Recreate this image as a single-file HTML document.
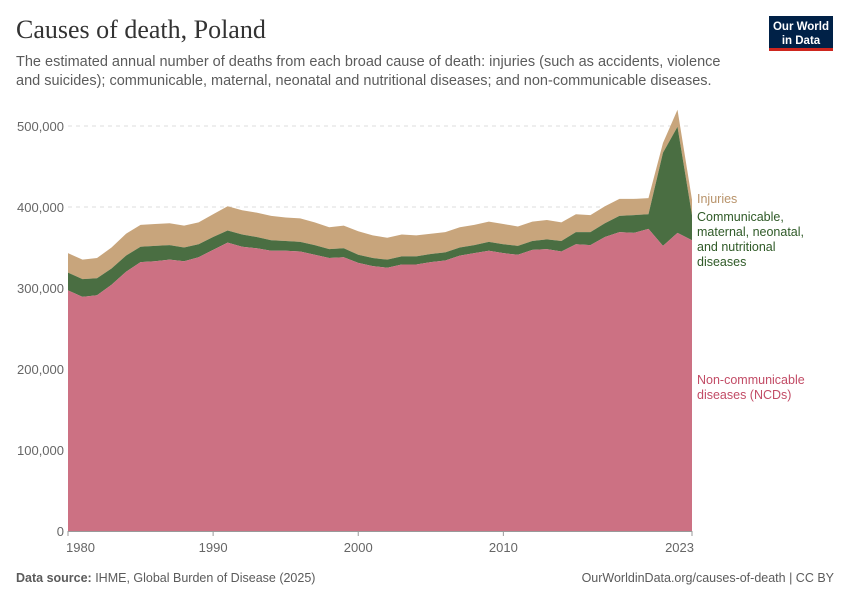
<!DOCTYPE html>
<html><head><meta charset="utf-8"><style>
body{margin:0;width:850px;height:600px;background:#fff;font-family:"Liberation Sans",sans-serif;overflow:hidden}
</style></head><body>
<svg width="850" height="600" xmlns="http://www.w3.org/2000/svg">
<text x="16" y="38" font-family="Liberation Serif" font-size="26" fill="#333">Causes of death, Poland</text>
<text font-size="14.5" fill="#5b5b5b"><tspan x="16" y="66">The estimated annual number of deaths from each broad cause of death: injuries (such as accidents, violence</tspan><tspan x="16" y="85">and suicides); communicable, maternal, neonatal and nutritional diseases; and non-communicable diseases.</tspan></text>
<g><rect x="769" y="16" width="64" height="34" fill="#002147"/><rect x="769" y="48" width="64" height="3" fill="#ce261e"/>
<text x="801" y="30" font-size="11.5" fill="#fff" text-anchor="middle" font-weight="bold">Our World</text><text x="801" y="44" font-size="11.5" fill="#fff" text-anchor="middle" font-weight="bold">in Data</text></g>
<g id="grid"></g><g id="areas"></g><g id="axes"></g>
<text x="697" y="203" font-size="12.5" fill="#b8936a">Injuries</text>
<text font-size="12.5" fill="#2f5a27"><tspan x="697" y="221">Communicable,</tspan><tspan x="697" y="236">maternal, neonatal,</tspan><tspan x="697" y="251">and nutritional</tspan><tspan x="697" y="266">diseases</tspan></text>
<text font-size="12.5" fill="#c24c66"><tspan x="697" y="384">Non-communicable</tspan><tspan x="697" y="399">diseases (NCDs)</tspan></text>
<text x="16" y="582" font-size="12.5" fill="#5b5b5b"><tspan font-weight="bold">Data source:</tspan> IHME, Global Burden of Disease (2025)</text>
<text x="834" y="582" font-size="12.5" fill="#5b5b5b" text-anchor="end">OurWorldinData.org/causes-of-death | CC BY</text>
</svg>
<script>
const years=[];for(let y=1980;y<=2023;y++)years.push(y);
const ncd=[297,289,291,304,320,332,333,335,333,338,347,356,351,349,346,346,345,341,337,338,331,327,325,329,329,332,334,340,343,346,343,341,347,348,345,354,353,363,369,368,373,352,368,359];
const comm=[22,22,21,20,20,19,19,18,17,16,16,15,15,14,13,12,12,12,11,11,10,10,10,10,10,10,10,10,10,11,11,11,11,12,13,15,16,17,20,22,18,115,131,31];
const inj=[24,24,25,26,27,27,27,27,27,27,28,30,30,30,30,29,29,28,27,28,29,28,27,27,26,25,25,25,25,25,25,24,24,24,23,22,21,21,21,20,20,12,21,19];
const yTicks=[0,100,200,300,400,500];
const xTicks=[1980,1990,2000,2010,2023];
const NS="http://www.w3.org/2000/svg";
const X=y=>68+(y-1980)*(624/43), Y=v=>531-v*0.81;
function mk(t,a,p){const e=document.createElementNS(NS,t);for(const k in a)e.setAttribute(k,a[k]);p.appendChild(e);return e;}
const grid=document.getElementById('grid'),areas=document.getElementById('areas'),axes=document.getElementById('axes');
yTicks.forEach(v=>{
 if(v>0){const l=mk('line',{x1:68,x2:692,y1:Y(v*1000/1000),y2:Y(v),stroke:'#ddd','stroke-dasharray':'4,4'},grid);
 
 }
 const t=mk('text',{x:64,y:Y(v)+5,'text-anchor':'end','font-size':13,fill:'#666'},axes);
 t.textContent=v===0?'0':(v+',000');
 
 
});
const b1=ncd,b2=ncd.map((v,i)=>v+comm[i]),b3=b2.map((v,i)=>v+inj[i]);
function area(top,bot,fill,name){
 let d='M'+years.map((y,i)=>X(y)+','+Y(top[i])).join('L');
 for(let i=years.length-1;i>=0;i--)d+='L'+X(years[i])+','+Y(bot?bot[i]:0);
 const p=mk('path',{d:d+'Z',fill:fill},areas);
 
 
}
area(b3,b2,'#c8a57c','area-injuries');
area(b2,b1,'#4a6e42','area-communicable');
area(b1,null,'#cc7183','area-ncd');
const ax=mk('line',{x1:68,x2:692,y1:531.5,y2:531.5,stroke:'#999'},axes);


xTicks.forEach((y,i)=>{
 const tk=mk('line',{x1:X(y),x2:X(y),y1:531,y2:536,stroke:'#999'},axes);
 
 
 const anchor=i===0?'start':(i===xTicks.length-1?'end':'middle');
 const t=mk('text',{x:i===0?X(y)-2:(i===xTicks.length-1?X(y)+2:X(y)),y:552,'text-anchor':anchor,'font-size':13,fill:'#666'},axes);
 t.textContent=y;
 
 
});
</script>
</body></html>
